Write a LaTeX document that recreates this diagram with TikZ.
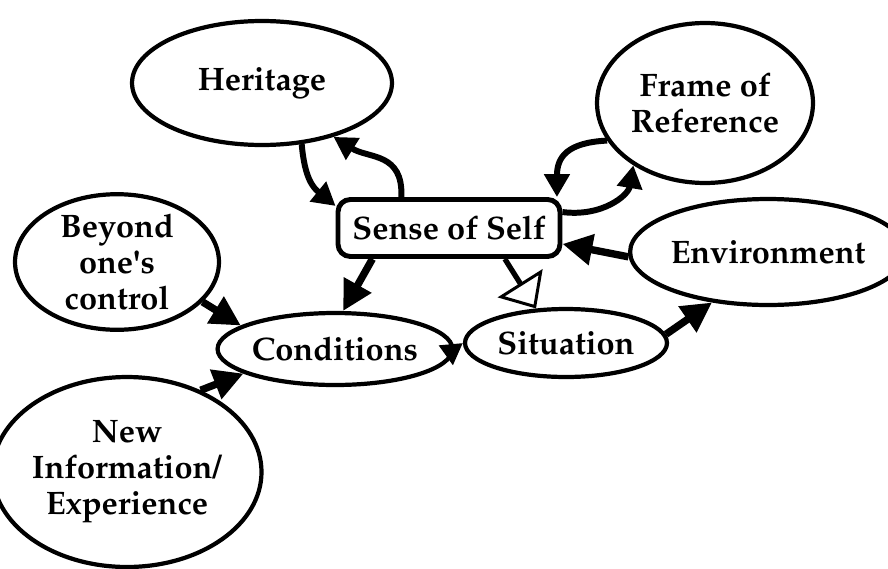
\documentclass[tikz,border=0pt]{standalone}
\usepackage[T1]{fontenc}
\usepackage{mathpazo}
\usetikzlibrary{shapes.geometric,arrows.meta}

\begin{document}
\begin{tikzpicture}[x=0.02cm, y=-0.02cm,
		bubble/.style={draw, ellipse, line width=2.4pt, inner sep=0pt, align=center,
			font=\bfseries\fontsize{18.5}{20.5}\selectfont},
		selfbox/.style={draw, rectangle, rounded corners=7pt, line width=2.8pt, inner sep=0pt,
			font=\bfseries\fontsize{18.5}{20.5}\selectfont},
		link/.style={line width=4.2pt, -{Triangle[length=17pt,width=17pt]}},
		curl/.style={line width=3.4pt, -{Triangle[length=13pt,width=14pt]}},
		hollow/.style={line width=3pt, -{Triangle[open,fill=white,length=17pt,width=30pt,line width=1.7pt]}},
	]
	\useasboundingbox (0,0) rectangle (888,568);

	% the ideas round the self
	\node[bubble, minimum width=5.2cm, minimum height=2.48cm] (her) at (262,83) {Heritage};
	\node[bubble, minimum width=4.32cm, minimum height=3.2cm] (frame) at (705,103) {Frame of\\Reference};
	\node[selfbox, minimum width=4.44cm, minimum height=1.14cm] (self) at (449,228) {Sense of Self};
	\node[bubble, minimum width=4.88cm, minimum height=2.12cm] (env) at (768,252) {Environment};
	\node[bubble, minimum width=4.08cm, minimum height=2.4cm] (beyond) at (117,262) {Beyond\\one\textquotesingle s\\control};
	\node[bubble, minimum width=4.12cm, minimum height=1.44cm] (cond) at (335,349) {Conditions};
	\node[bubble, minimum width=4.04cm, minimum height=1.36cm] (sit) at (566,343) {Situation};
	\node[bubble, minimum width=4.88cm, minimum height=3.8cm] (newinfo) at (127,472) {New\\Information/\\Experience};

	% curved pairs
	\draw[curl] (her.-57) .. controls +(3,35) and +(-22,-18) .. (self.169);
	\draw[curl] (self.147) .. controls +(2,-45) and +(35,22) .. (her.-37);
	\draw[curl] (self.8) .. controls +(40,5) and +(-5,30) .. (frame.221);
	\draw[curl] (frame.201) .. controls +(-40,2) and +(0,-40) .. (self.16);

	% straight links
	\draw[link] (env.182) -- (self.-8);
	\draw[link] (sit.5) -- (env.222);
	\draw[link] (self.202) -- (cond.78);
	\draw[hollow] (self.-29) -- (sit.131);
	\draw[link] (beyond.-25) -- (cond.166);
	\draw[link] (newinfo.48) -- (cond.195);
	\draw[line width=3pt, -{Triangle[length=12pt,width=13pt]}] (cond.east) -- (sit.west);
\end{tikzpicture}
\end{document}
